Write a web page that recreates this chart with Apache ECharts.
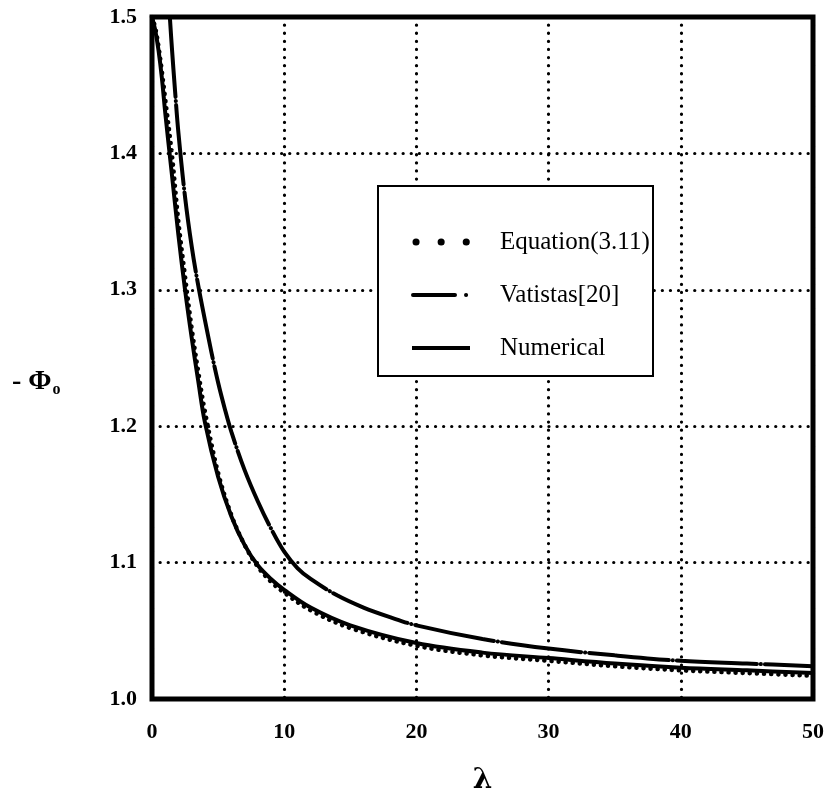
<!DOCTYPE html>
<html>
<head>
<meta charset="utf-8">
<script src="https://cdn.jsdelivr.net/npm/echarts@6/dist/echarts.min.js"></script>
<style>html,body{margin:0;padding:0;background:#fff;}#c{width:829px;height:800px;}</style>
</head>
<body>
<div id="c"></div>
<script>
// ---- data ----
const xTicks = [0, 10, 20, 30, 40, 50];
const yTicks = [1.0, 1.1, 1.2, 1.3, 1.4, 1.5];

const numLambda = [0, 0.25, 0.5, 0.75, 1, 1.5, 2, 2.5, 3, 3.5, 4, 5, 6, 7, 8, 9, 10, 12, 15, 20, 25, 30, 35, 40, 45, 50];
const numValue  = [1.5, 1.49, 1.475, 1.455, 1.43, 1.385, 1.34, 1.30, 1.265, 1.233, 1.203, 1.163, 1.134, 1.113, 1.098, 1.088, 1.080, 1.067, 1.054, 1.041, 1.034, 1.030, 1.026, 1.023, 1.021, 1.019];

const eqLambda = [0, 0.25, 0.5, 0.75, 1, 1.5, 2, 2.5, 3, 3.5, 4, 5, 6, 7, 8, 9, 10, 12, 15, 20, 25, 30, 35, 40, 45, 50];
const eqValue  = [1.5, 1.492, 1.478, 1.46, 1.44, 1.40, 1.35, 1.31, 1.272, 1.24, 1.211, 1.166, 1.135, 1.113, 1.097, 1.086, 1.078, 1.065, 1.052, 1.039, 1.032, 1.028, 1.024, 1.021, 1.019, 1.017];

const vatLambda = [1.35, 1.5, 1.75, 2, 2.5, 3, 3.5, 4, 4.5, 5, 5.5, 6, 7, 8, 9, 10, 11, 12, 14, 16, 18, 20, 25, 30, 35, 40, 45, 50];
const vatValue  = [1.5, 1.478, 1.445, 1.415, 1.368, 1.332, 1.303, 1.278, 1.254, 1.232, 1.213, 1.196, 1.168, 1.145, 1.125, 1.108, 1.096, 1.088, 1.076, 1.067, 1.060, 1.054, 1.044, 1.037, 1.032, 1.028, 1.026, 1.024];

const seriesNames = ['Equation(3.11)', 'Vatistas[20]', 'Numerical'];

const pairs = (xs, ys) => xs.map((x, i) => [x, ys[i]]);

const chart = echarts.init(document.getElementById('c'), null, {renderer: 'canvas'});
const serif = '"Liberation Serif", "Times New Roman", serif';

// legend drawn as graphic elements
const legBox = {x: 378, y: 186, w: 275, h: 190};
const legRows = [242, 295, 348];
const legendGraphic = [
  {type: 'rect', shape: {x: legBox.x, y: legBox.y, width: legBox.w, height: legBox.h},
    style: {fill: '#fff', stroke: '#000', lineWidth: 2}, z: 10},
  {type: 'line', shape: {x1: 416, y1: legRows[0], x2: 470, y2: legRows[0]},
    style: {stroke: '#000', lineWidth: 7, lineDash: [0.1, 25], lineCap: 'round'}, z: 11},
  {type: 'line', shape: {x1: 413, y1: legRows[1], x2: 468, y2: legRows[1]},
    style: {stroke: '#000', lineWidth: 4, lineDash: [42, 11, 0.1, 30], lineCap: 'round'}, z: 11},
  {type: 'line', shape: {x1: 412, y1: legRows[2], x2: 470, y2: legRows[2]},
    style: {stroke: '#000', lineWidth: 4}, z: 11}
].concat(seriesNames.map((n, i) => ({
  type: 'text', x: 500, y: legRows[i], z: 11,
  style: {text: n, fill: '#000', font: '25px ' + serif, verticalAlign: 'middle', align: 'left'}
})));

chart.setOption({
  animation: false,
  backgroundColor: '#fff',
  grid: {left: 152, right: 16, top: 17, bottom: 91, show: true, borderColor: '#000', borderWidth: 5, backgroundColor: 'transparent'},
  xAxis: {
    type: 'value', min: xTicks[0], max: xTicks[xTicks.length - 1], interval: 10,
    axisLine: {show: false}, axisTick: {show: false},
    axisLabel: {color: '#000', fontFamily: serif, fontWeight: 'bold', fontSize: 22, margin: 22},
    splitLine: {show: true, lineStyle: {color: '#000', width: 3.2, type: [0.1, 8], cap: 'round'}},
    name: 'λ', nameLocation: 'middle', nameGap: 68,
    nameTextStyle: {color: '#000', fontFamily: '"DejaVu Serif", serif', fontWeight: 'bold', fontSize: 28}
  },
  yAxis: {
    type: 'value', min: yTicks[0], max: yTicks[yTicks.length - 1], interval: 0.1,
    axisLine: {show: false}, axisTick: {show: false},
    axisLabel: {color: '#000', fontFamily: serif, fontWeight: 'bold', fontSize: 22, margin: 15,
      formatter: v => v.toFixed(1)},
    splitLine: {show: true, lineStyle: {color: '#000', width: 3.2, type: [0.1, 8], cap: 'round'}}
  },
  graphic: [{
    type: 'text', left: 12, top: 368,
    style: {
      text: '{a|- Φ}{b|o}',
      rich: {
        a: {fontFamily: serif, fontWeight: 'bold', fontSize: 28, fill: '#000'},
        b: {fontFamily: serif, fontWeight: 'bold', fontSize: 16, fill: '#000', padding: [16, 0, 0, 1]}
      }
    }
  }].concat(legendGraphic),
  series: [
    {name: seriesNames[0], type: 'line', data: pairs(eqLambda, eqValue), symbol: 'none', smooth: 0.35,
      lineStyle: {color: '#000', width: 4.5, type: [0.1, 7], cap: 'round'}, z: 3},
    {name: seriesNames[1], type: 'line', data: pairs(vatLambda, vatValue), symbol: 'none', smooth: 0.35,
      lineStyle: {color: '#000', width: 4, type: [80, 4, 0.1, 4], cap: 'round'}, z: 3},
    {name: seriesNames[2], type: 'line', data: pairs(numLambda, numValue), symbol: 'none', smooth: 0.35,
      lineStyle: {color: '#000', width: 4, type: 'solid'}, z: 3}
  ]
});
</script>
</body>
</html>
